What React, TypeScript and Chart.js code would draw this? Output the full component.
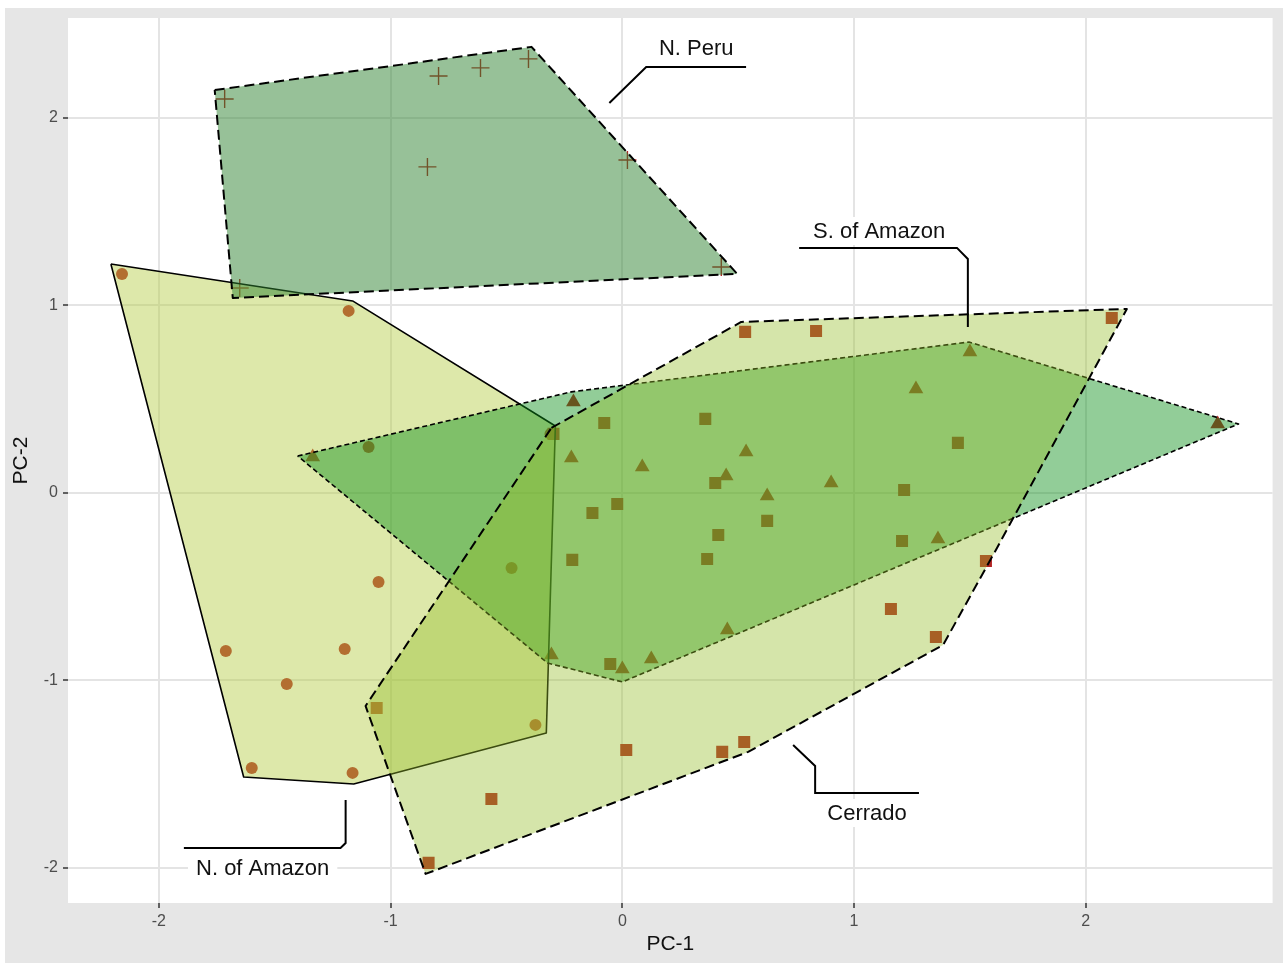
import React, { useEffect, useRef } from "react";
import { Chart, registerables } from "chart.js";

Chart.register(...registerables);

// ---- data (PC-1, PC-2) ----
const nPeruPoints: [number, number][] = [
  [-1.716, 2.101], [-0.793, 2.224], [-0.612, 2.267], [-0.405, 2.315],
  [-0.841, 1.739], [0.022, 1.776], [0.427, 1.205], [-1.651, 1.093],
];
const nAmazonPoints: [number, number][] = [
  [-2.159, 1.168], [-1.181, 0.971], [-1.095, 0.245], [-1.052, -0.475],
  [-1.711, -0.843], [-1.198, -0.832], [-1.448, -1.019], [-1.599, -1.467],
  [-1.164, -1.493], [-0.478, -0.4], [-0.375, -1.237], [-0.31, 0.315],
];
const cerradoPoints: [number, number][] = [
  [0.53, 0.859], [0.836, 0.864], [-0.078, 0.373], [0.358, 0.395],
  [0.401, 0.053], [1.448, 0.267], [1.216, 0.016], [-0.129, -0.107],
  [-0.022, -0.059], [0.625, -0.149], [0.414, -0.224], [1.207, -0.256],
  [0.366, -0.352], [-0.216, -0.357], [2.112, 0.933], [1.569, -0.363],
  [1.159, -0.619], [1.353, -0.768], [-0.052, -0.912], [0.017, -1.371],
  [0.431, -1.381], [0.526, -1.328], [-0.565, -1.632], [-0.836, -1.973],
  [-1.06, -1.147], [-0.297, 0.315],
];
const sAmazonPoints: [number, number][] = [
  [1.5, 0.752], [1.267, 0.555], [0.534, 0.219], [0.086, 0.139],
  [0.448, 0.091], [0.901, 0.053], [0.625, -0.016], [1.362, -0.245],
  [-0.211, 0.485], [-0.22, 0.187], [-1.336, 0.192], [2.569, 0.368],
  [0.453, -0.731], [-0.306, -0.864], [0.0, -0.939], [0.125, -0.885],
];

// hull outlines (expanded convex hulls)
const nPeruHull: [number, number][] = [
  [-1.759, 2.149], [-0.392, 2.379], [0.496, 1.168], [-1.681, 1.04],
];
const nAmazonHull: [number, number][] = [
  [-2.207, 1.221], [-1.164, 1.024], [-0.289, 0.357], [-0.328, -1.28],
  [-1.159, -1.552], [-1.634, -1.515],
];
const cerradoHull: [number, number][] = [
  [-0.306, 0.347], [0.513, 0.912], [2.177, 0.981], [1.612, -0.304],
  [1.384, -0.811], [0.543, -1.381], [-0.849, -2.032], [-1.108, -1.136],
];
const sAmazonHull: [number, number][] = [
  [-1.401, 0.197], [-0.22, 0.539], [1.496, 0.805], [2.659, 0.368],
  [0.0, -1.008], [-0.323, -0.907],
];

// labels and leader lines
const labelNames = ["N. Peru", "S. of Amazon", "Cerrado", "N. of Amazon"];
const labelX = [0.319, 1.108, 1.056, -1.552];
const labelY = [2.373, 1.397, -1.707, -2.0];
const leaderLines: [number, number][][] = [
  [[-0.056, 2.08], [0.103, 2.272], [0.534, 2.272]],
  [[0.763, 1.307], [1.444, 1.307], [1.491, 1.248], [1.491, 0.885]],
  [[0.737, -1.344], [0.832, -1.456], [0.832, -1.6], [1.28, -1.6]],
  [[-1.194, -1.637], [-1.194, -1.867], [-1.216, -1.893], [-1.892, -1.893]],
];

const xTicks = [-2, -1, 0, 1, 2];
const yTicks = [-2, -1, 0, 1, 2];

const toXY = (arr: [number, number][]) => arr.map(([x, y]) => ({ x, y }));
const closed = (arr: [number, number][]) => toXY([...arr, arr[0]]);

const POINT = "#b22222";
const FONT = '"Liberation Sans", Arial, Helvetica, sans-serif';

const bgPlugin = {
  id: "bgPlugin",
  beforeDraw(chart: any) {
    const { ctx, width, height, chartArea: a } = chart;
    ctx.save();
    ctx.fillStyle = "#ffffff";
    ctx.fillRect(0, 0, width, height);
    ctx.fillStyle = "#e6e6e6";
    ctx.fillRect(5, 8, width - 5, height - 8);
    ctx.fillStyle = "#ffffff";
    ctx.fillRect(a.left, a.top, a.right - a.left, a.bottom - a.top);
    ctx.restore();
  },
};

const labelPlugin = {
  id: "labelPlugin",
  afterDatasetsDraw(chart: any) {
    const { ctx } = chart;
    const xs = chart.scales.x;
    const ys = chart.scales.y;
    ctx.save();
    ctx.font = `22px ${FONT}`;
    ctx.textAlign = "center";
    ctx.textBaseline = "middle";
    labelNames.forEach((t, i) => {
      const px = xs.getPixelForValue(labelX[i]);
      const py = ys.getPixelForValue(labelY[i]);
      const w = ctx.measureText(t).width;
      ctx.fillStyle = "#ffffff";
      ctx.fillRect(px - w / 2 - 8, py - 14, w + 16, 28);
      ctx.fillStyle = "#111111";
      ctx.fillText(t, px, py + 1);
    });
    ctx.restore();
  },
};

export default function App() {
  const ref = useRef<HTMLCanvasElement | null>(null);

  useEffect(() => {
    if (!ref.current) return;
    const hull = (data: [number, number][], fillColor: string, dash: number[], width: number) => ({
      type: "line" as const,
      data: closed(data),
      borderColor: "#000000",
      borderWidth: width,
      borderDash: dash,
      borderJoinStyle: "round" as const,
      backgroundColor: fillColor,
      fill: "shape" as any,
      pointRadius: 0,
      pointHoverRadius: 0,
      tension: 0,
    });
    const leaders = leaderLines.map((l) => ({
      type: "line" as const,
      data: toXY(l),
      borderColor: "#000000",
      borderWidth: 2,
      fill: false,
      pointRadius: 0,
      pointHoverRadius: 0,
      tension: 0,
    }));
    const chart = new Chart(ref.current, {
      type: "scatter",
      data: {
        datasets: [
          ...leaders,
          hull(cerradoHull, "rgba(150,190,42,0.4)", [10, 5], 2),
          hull(sAmazonHull, "rgba(13,144,26,0.45)", [5, 3], 1.6),
          hull(nPeruHull, "rgba(47,131,49,0.5)", [10, 5], 2),
          hull(nAmazonHull, "rgba(179,204,66,0.45)", [], 1.6),
          {
            type: "scatter" as const,
            data: toXY(nPeruPoints),
            pointStyle: "cross",
            pointRadius: 9,
            borderColor: POINT,
            backgroundColor: POINT,
            borderWidth: 1.4,
          },
          {
            type: "scatter" as const,
            data: toXY(nAmazonPoints),
            pointStyle: "circle",
            pointRadius: 6,
            borderWidth: 0,
            backgroundColor: POINT,
            borderColor: POINT,
          },
          {
            type: "scatter" as const,
            data: toXY(cerradoPoints),
            pointStyle: "rect",
            pointRadius: 8.5,
            borderWidth: 0,
            backgroundColor: POINT,
            borderColor: POINT,
          },
          {
            type: "scatter" as const,
            data: toXY(sAmazonPoints),
            pointStyle: "triangle",
            pointRadius: 8.5,
            borderWidth: 0,
            backgroundColor: POINT,
            borderColor: POINT,
          },
        ] as any,
      },
      options: {
        animation: false,
        responsive: false,
        maintainAspectRatio: false,
        devicePixelRatio: 1,
        layout: { padding: { left: 0, right: 9, top: 18, bottom: 0 } },
        plugins: {
          legend: { display: false },
          tooltip: { enabled: false },
        },
        events: [],
        scales: {
          x: {
            type: "linear",
            min: -2.392,
            max: 2.806,
            afterFit: (s: any) => {
              s.height = 60;
            },
            afterBuildTicks: (s: any) => {
              s.ticks = xTicks.map((v) => ({ value: v }));
            },
            border: { display: false },
            grid: {
              color: "#e4e4e4",
              lineWidth: 2,
              tickColor: "#333333",
              tickLength: 5,
              tickWidth: 1.5,
            },
            ticks: {
              color: "#4d4d4d",
              font: { family: FONT, size: 16 },
              padding: 4,
              maxRotation: 0,
            },
            title: {
              display: true,
              text: "PC-1",
              color: "#111111",
              font: { family: FONT, size: 21 },
              padding: { top: 0, bottom: 6 },
            },
          },
          y: {
            type: "linear",
            min: -2.187,
            max: 2.533,
            afterFit: (s: any) => {
              s.width = 68;
            },
            afterBuildTicks: (s: any) => {
              s.ticks = yTicks.map((v) => ({ value: v }));
            },
            border: { display: false },
            grid: {
              color: "#e4e4e4",
              lineWidth: 2,
              tickColor: "#333333",
              tickLength: 5,
              tickWidth: 1.5,
            },
            ticks: {
              color: "#4d4d4d",
              font: { family: FONT, size: 16 },
              padding: 5,
            },
            title: {
              display: true,
              text: "PC-2",
              color: "#111111",
              font: { family: FONT, size: 21 },
              padding: { top: 9, bottom: 0 },
            },
          },
        },
      },
      plugins: [bgPlugin, labelPlugin],
    });
    return () => chart.destroy();
  }, []);

  return (
    <div style={{ position: "absolute", left: 0, top: 0, width: 1283, height: 963 }}>
      <canvas ref={ref} width={1283} height={963} style={{ width: 1283, height: 963 }} />
    </div>
  );
}
